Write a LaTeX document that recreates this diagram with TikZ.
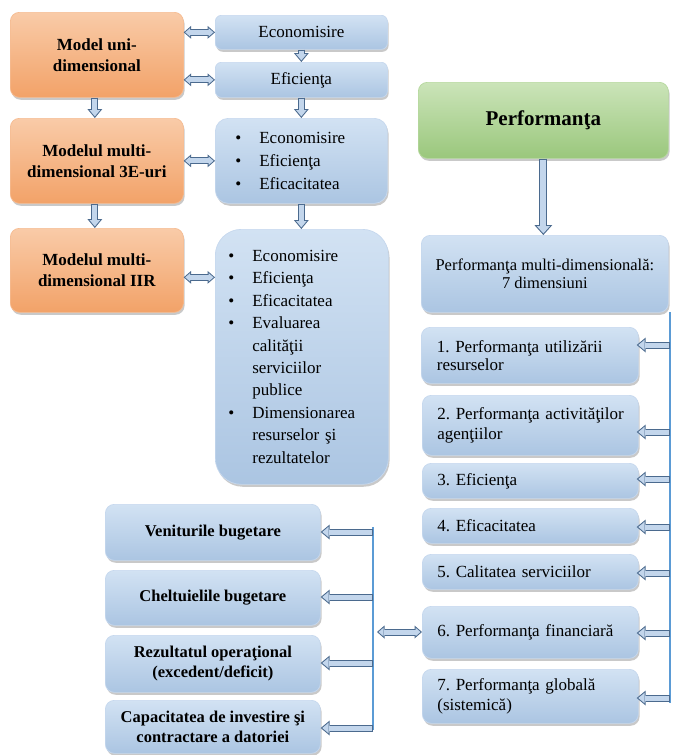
\documentclass[tikz,border=0pt]{standalone}
\usepackage{fontspec}
\setmainfont{Liberation Serif}
\usetikzlibrary{arrows.meta,shadows,calc}
\definecolor{or1}{HTML}{F9CBA8}
\definecolor{or2}{HTML}{F2A268}
\definecolor{orb}{HTML}{F6BC92}
\definecolor{bl1}{HTML}{D2E2F3}
\definecolor{bl2}{HTML}{ABC5E2}
\definecolor{blb}{HTML}{C6D8EE}
\definecolor{gr1}{HTML}{CBE4B9}
\definecolor{gr2}{HTML}{9AC77C}
\definecolor{grb}{HTML}{B6D99E}
\definecolor{arrdark}{HTML}{4B6A8E}
\definecolor{arrfill}{HTML}{C3D6EC}
\definecolor{linec}{HTML}{5B9BD5}
\newcommand\fsn{\fontsize{17}{21}\selectfont}
\newcommand\bl{\makebox[24pt][l]{\textbullet}}
\newcommand\bsk{\hspace*{24pt}}
\frenchspacing
\begin{document}
\begin{tikzpicture}[x=1pt,y=-1pt,
  base/.style={rounded corners=9pt, line width=0.7pt, inner sep=0pt, anchor=north west,
     drop shadow={shadow xshift=1.2pt, shadow yshift=-2.4pt, opacity=0.35, fill=black!60}},
  obox/.style={base, top color=or1, bottom color=or2, draw=orb,
     font=\fsn\bfseries, align=center},
  bbox/.style={base, top color=bl1, bottom color=bl2, draw=blb,
     font=\fsn, align=center},
  lbox/.style={base, top color=bl1, bottom color=bl2, draw=blb,
     font=\fsn, align=left, inner xsep=15pt, text width=186pt},
  kbox/.style={base, top color=bl1, bottom color=bl2, draw=blb,
     font=\fontsize{16.5}{20}\selectfont\bfseries, align=center},
  gbox/.style={base, top color=gr1, bottom color=gr2, draw=grb,
     font=\fontsize{21}{24}\selectfont\bfseries, align=center},
  barrow/.style={draw=arrdark, line width=7pt,
     -{Triangle[length=9pt,width=15pt,line width=0pt]},
     postaction={draw=arrfill, line width=5pt,
       -{Triangle[length=6.4pt,width=10.7pt,line width=0pt]},
       shorten >=1.6pt, shorten <=1pt}},
  dbarrow/.style={draw=arrdark, line width=7pt,
     {Triangle[length=7.5pt,width=13pt,line width=0pt]}-{Triangle[length=7.5pt,width=13pt,line width=0pt]},
     postaction={draw=arrfill, line width=5pt,
       {Triangle[length=5pt,width=8.6pt,line width=0pt]}-{Triangle[length=5pt,width=8.6pt,line width=0pt]},
       shorten >=1.5pt, shorten <=1.5pt}},
  bigarrow/.style={draw=arrdark, line width=8pt,
     -{Triangle[length=10pt,width=18pt,line width=0pt]},
     postaction={draw=arrfill, line width=6pt,
       -{Triangle[length=7.3pt,width=13.2pt,line width=0pt]},
       shorten >=1.6pt, shorten <=1pt}},
  bracket/.style={draw=linec, line width=2pt}
]
\useasboundingbox[fill=white] (0,0) rectangle (675,755);

% left column: models
\node[obox, minimum width=173pt, minimum height=85pt] (O1) at (10,12) {Model uni-\\dimensional};
\node[obox, minimum width=173pt, minimum height=85pt] (O2) at (10,118) {Modelul multi-\\dimensional 3E-uri};
\node[obox, minimum width=173pt, minimum height=84pt] (O3) at (10,228) {Modelul multi-\\dimensional IIR};

% middle column
\node[bbox, rounded corners=6pt, minimum width=172pt, minimum height=34pt] (E1) at (215,15) {Economisire};
\node[bbox, rounded corners=6pt, minimum width=172pt, minimum height=35pt] (E2) at (215,62) {Eficienţa};
\node[bbox, rounded corners=13pt, minimum width=172pt, minimum height=85pt,
      align=left, inner xsep=20pt, text width=132pt,
      font=\fontsize{17}{23}\selectfont] (B1) at (215,118)
  {\bl Economisire\\ \bl Eficienţa\\ \bl Eficacitatea};
\node[bbox, rounded corners=26pt, minimum width=173pt, minimum height=255pt,
      align=left, inner xsep=13pt, text width=147pt,
      font=\fontsize{17}{22.4}\selectfont] (B2) at (215,229)
  {\bl Economisire\\ \bl Eficienţa\\ \bl Eficacitatea\\ \bl Evaluarea\\
   \bsk calităţii\\ \bsk serviciilor\\ \bsk publice\\ \bl Dimensionarea\\
   \bsk resurselor şi\\ \bsk rezultatelor};

% right column
\node[gbox, minimum width=250pt, minimum height=76pt] (G) at (418,82) {Performanţa};
\node[bbox, minimum width=247pt, minimum height=77pt,
      font=\fontsize{16.5}{18}\selectfont] (M) at (421,235)
  {Performanţa multi-dimensională:\\7 dimensiuni};
\node[lbox, minimum width=217pt, minimum height=56pt, font=\fontsize{17}{18}\selectfont] (R1) at (421,327) {1. Performanţa utilizării\\resurselor};
\node[lbox, minimum width=216pt, minimum height=60pt, font=\fontsize{17}{20}\selectfont] (R2) at (422,395) {\mbox{2. Performanţa activităţilor}\\agenţiilor};
\node[lbox, minimum width=216pt, minimum height=35pt] (R3) at (422,463) {3. Eficienţa};
\node[lbox, minimum width=216pt, minimum height=35pt] (R4) at (422,508) {4. Eficacitatea};
\node[lbox, minimum width=216pt, minimum height=35pt] (R5) at (422,554) {5. Calitatea serviciilor};
\node[lbox, minimum width=216pt, minimum height=52pt] (R6) at (422,606) {6. Performanţa financiară};
\node[lbox, minimum width=216pt, minimum height=54pt, font=\fontsize{17}{20}\selectfont] (R7) at (422,669) {7. Performanţa globală\\(sistemică)};

% bottom-left
\node[kbox, minimum width=215pt, minimum height=56pt] (L1) at (105,504) {Veniturile bugetare};
\node[kbox, minimum width=215pt, minimum height=55pt] (L2) at (105,570) {Cheltuielile bugetare};
\node[kbox, minimum width=215pt, minimum height=57pt] (L3) at (105,635) {Rezultatul operaţional\\(excedent/deficit)};
\node[kbox, minimum width=215pt, minimum height=53pt] (L4) at (105,700) {Capacitatea de investire şi\\contractare a datoriei};

% arrows: left models <-> middle
\draw[dbarrow] (O1.east |- E1.west) -- (E1.west);
\draw[dbarrow] (O1.east |- E2.west) -- (E2.west);
\draw[dbarrow] (O2.east) -- (O2.east -| B1.west);
\draw[dbarrow] ([yshift=-7pt]O3.east) -- ([yshift=-7pt]O3.east -| B2.west);

\draw[barrow] ([xshift=-2pt]O1.south) -- ([xshift=-2pt]O2.north);
\draw[barrow] ([xshift=-2pt]O2.south) -- ([xshift=-2pt]O3.north);
\draw[barrow] (E1.south) -- (E2.north);
\draw[barrow] (E2.south) -- (B1.north);
\draw[barrow] (B1.south) -- (B1.south |- B2.north);
\draw[bigarrow] (G.south) -- (G.south |- M.north);

% right bracket
\coordinate (rt) at (670,312);
\coordinate (rb) at (670,703);
\draw[bracket] (rt) -- (rb);
\coordinate (r1) at (670,345);
\coordinate (r2) at (670,432);
\coordinate (r3) at (670,479);
\coordinate (r4) at (670,527);
\coordinate (r5) at (670,573);
\coordinate (r6) at (670,633);
\coordinate (r7) at (670,698);
\draw[barrow] (r1) -- ([xshift=-2pt]r1 -| R1.east);
\draw[barrow] (r2) -- ([xshift=-2pt]r2 -| R2.east);
\draw[barrow] (r3) -- ([xshift=-2pt]r3 -| R3.east);
\draw[barrow] (r4) -- ([xshift=-2pt]r4 -| R4.east);
\draw[barrow] (r5) -- ([xshift=-2pt]r5 -| R5.east);
\draw[barrow] (r6) -- ([xshift=-2pt]r6 -| R6.east);
\draw[barrow] (r7) -- ([xshift=-2pt]r7 -| R7.east);

% left bracket
\coordinate (lt) at (373,527);
\coordinate (lb) at (373,730);
\draw[bracket] (lt) -- (lb);
\coordinate (l1) at (373,532);
\coordinate (l2) at (373,597);
\coordinate (l3) at (373,663);
\coordinate (l4) at (373,728);
\draw[barrow] (l1) -- (l1 -| L1.east);
\draw[barrow] (l2) -- (l2 -| L2.east);
\draw[barrow] (l3) -- (l3 -| L3.east);
\draw[barrow] (l4) -- (l4 -| L4.east);
\coordinate (lm) at (377,632);
\draw[dbarrow] (lm) -- (lm -| R6.west);
\end{tikzpicture}
\end{document}
